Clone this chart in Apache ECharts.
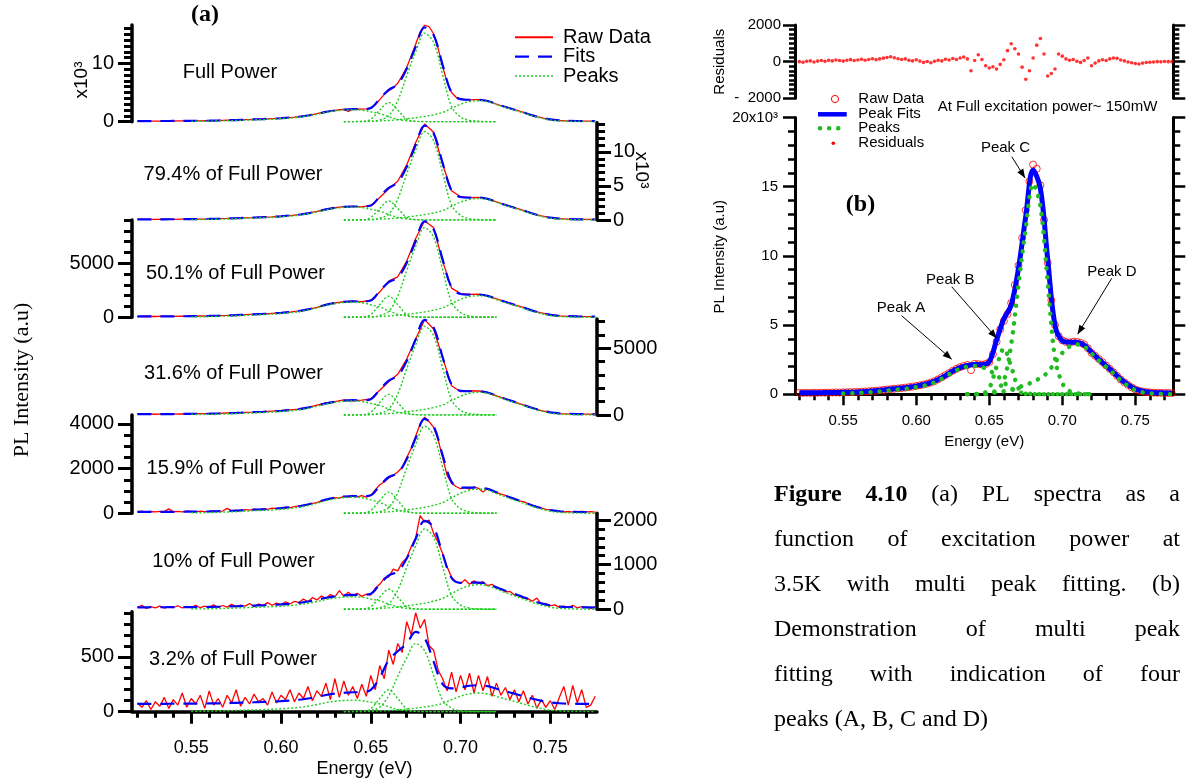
<!DOCTYPE html>
<html>
<head>
<meta charset="utf-8">
<script src="https://cdn.jsdelivr.net/npm/echarts@6/dist/echarts.min.js"></script>
<style>
html, body { margin: 0; padding: 0; background: #fff; }
#chart { width: 1186px; height: 783px; }
</style>
</head>
<body>
<div id="chart"></div>
<script>
// ---------- sampling grids (photon energy, eV) ----------
function seq(start, step, n) { const a = []; for (let i = 0; i < n; i++) a.push(+(start + step * i).toFixed(4)); return a; }
const fitEnergy = seq(0.520, 0.005, 52);     // fits: 0.520 .. 0.775
const rawEnergy = seq(0.520, 0.0025, 103);   // dense spectra: 0.520 .. 0.775
const peakAEnergy = seq(0.550, 0.005, 35);   // peak A: 0.550 .. 0.720
const peakBCEnergy = seq(0.635, 0.005, 18);  // peaks B, C: 0.635 .. 0.720
const peakDEnergy = seq(0.635, 0.005, 29);   // peak D: 0.635 .. 0.775

// ---------- measured PL spectra (counts) ----------
const rawFull = [
  105,100,110,104,112,108,120,115,122,130,
  135,128,145,150,158,165,175,190,205,222,
  245,262,288,318,350,372,405,425,455,485,
  520,555,600,650,705,770,850,950,1080,1230,
  1380,1540,1700,1840,1960,2050,2120,1750,2200,2180,
  2150,2190,2320,2900,3800,4700,5300,5800,6600,7900,
  9300,11300,13300,15400,16600,16300,15100,12600,9500,6800,
  5000,4200,3900,3780,3750,3800,3800,3720,3600,3330,
  3000,2780,2550,2320,2080,1840,1600,1330,1070,860,
  680,500,360,260,200,160,140,120,110,105,
  100,98,90];
const raw79 = [90,100,96,110,104,125, 122,140,150,190,225,262,325,360,420,470, 550,645,780,995,1270,1570,1800,
  1960,2010,1940,2150,3300,4600,5700,8100,11400,14100, 12900,8200,4300,3420,3300,3330,3150,2680,
  2230,1820,1400,940,600,330,190,130,100,85,75];
const raw50 = [70,95,75,100,80,110, 95,120,115,150,170,210,240,290,300,360, 420,470,590,740,920,1180,1330,
  1440,1500,1440,1580,2350,3350,3750,5200,7300,8950, 8300,5200,2700,2200,2120,2150,1990,1700,
  1450,1150,920,610,410,220,130,90,80,70,65];
const raw32 = [60,75,55,80,65,90, 75,100,105,125,150,150,200,215,250,290, 320,390,430,570,740,900,1000,
  1130,1060,1110,1200,1850,2500,3050,4200,5700,7150, 6450,4300,2200,1750,1820,1800,1700,1430,
  1210,980,760,520,330,190,110,80,70,60,55];
const raw16 = [
  70,95,55,80,60,90,75,200,70,85,
  60,95,80,65,100,75,90,110,85,100,
  220,110,135,120,160,140,185,160,200,180,
  230,210,240,270,250,300,330,360,400,440,
  480,560,600,640,700,680,760,720,800,740,
  790,720,800,1050,1280,1400,1580,1700,1850,2050,
  2500,2900,3450,4000,4300,4100,3850,3300,2500,1700,
  1350,1200,1100,1160,1080,1180,1120,950,1100,1000,
  930,860,800,700,650,560,520,430,360,290,
  240,180,150,110,90,60,80,55,70,90,
  60,75,50];
const raw10 = [
  40,90,20,60,30,70,25,55,35,80,
  30,65,40,90,35,70,45,100,40,85,
  50,110,55,95,70,130,60,120,80,150,
  90,140,100,170,120,180,150,230,170,260,
  210,300,240,330,280,420,290,380,300,360,
  290,340,320,470,560,700,720,900,860,1050,
  1150,1400,1600,2100,1950,2000,1700,1500,1250,950,
  720,620,580,660,560,640,580,620,530,560,
  480,450,390,400,320,300,250,240,180,250,
  120,130,80,100,50,70,40,90,30,60,
  45,20,55];
const raw3 = [
  80,40,100,20,90,50,130,30,110,60,
  170,40,120,70,150,30,190,60,120,40,
  150,80,200,50,130,70,160,90,120,60,
  180,80,150,110,200,90,170,120,230,100,
  190,140,260,110,300,130,280,150,230,120,
  250,140,330,200,420,300,560,430,620,540,
  820,700,900,760,840,600,560,380,300,190,
  360,180,330,200,350,170,330,190,320,140,
  260,150,220,110,200,90,190,70,150,30,
  110,40,100,20,130,230,60,240,80,200,
  40,60,140];

// ---------- multi-peak fits (sum of peaks + background) ----------
const fitFull = [110,112,115,120,125,132, 142,152,172,203,244,285,347,398,449,511, 593,695,839,1064,1351,1679,1925,
  2079,2148,2142,2346,3925,5460,6437,9098,12870,16201, 14872,9766,4983,3874,3764,3756,3551,3032,
  2528,2060,1592,1088,692,386,224,152,116,98,80];
const fit79 = [95,97,100,104,110,118, 127,137,156,184,222,260,317,365,412,469, 545,640,773,982,1248,1552,1780,
  1923,1986,1977,2127,3448,4715,5530,7801,11027,13877, 12745,8385,4309,3374,3289,3285,3107,2653,
  2212,1803,1393,952,606,338,196,133,102,86,70];
const fit50 = [80,82,84,87,90,96, 102,109,123,144,172,200,242,277,312,354, 410,480,578,732,928,1152,1320,
  1425,1470,1459,1550,2442,3266,3681,5031,7060,8874, 8149,5364,2759,2160,2105,2102,1988,1700,
  1420,1160,900,620,400,230,140,100,80,70,60];
const fit32 = [65,66,68,70,73,77, 82,87,97,113,134,155,187,213,239,271, 313,365,439,554,701,869,995,
  1074,1109,1103,1185,1906,2582,2939,4039,5676,7136, 6563,4342,2275,1813,1782,1783,1689,1444,
  1206,985,764,526,339,195,118,84,67,59,50];
const fit16 = [65,65,66,67,68,70, 72,75,82,93,108,122,144,162,180,201, 230,266,316,396,496,612,698,
  752,775,770,810,1238,1624,1798,2415,3368,4227, 3897,2604,1408,1153,1146,1150,1091,936,
  784,644,504,352,234,142,93,72,61,55,50];
const fit10 = [45,45,46,46,47,47, 48,50,53,57,62,68,76,83,90,99, 110,124,144,174,214,258,292,
  313,323,323,349,561,760,848,1136,1580,1981, 1833,1241,700,592,595,599,570,491,
  414,343,271,194,134,87,62,51,46,43,40];
const fit3 = [72,72,72,72,73,73, 73,74,75,76,78,81,84,86,89,92, 96,102,109,120,135,152,165,
  172,177,177,199,310,471,550,619,727,669, 456,251,212,220,236,241,233,209,
  186,164,141,118,99,84,77,73,72,71,70];

// ---------- fitted peaks A, B, C, D ----------
const aFull = [62,72,92,123,164,205,267,318,369,431,513,615,759,984,1271,1599,1845,1999,2050,1978,1702,1394,861,410,164,62,21,0,0,0,0,0,0,0,0];
const bFull = [0,0,33,446,2003,3300,2003,446,36,0,0,0,0,0,0,0,0,0];
const cFull = [0,0,15,46,304,1003,3602,7904,12008,15200,13604,8102,2599,806,228,76,15,0];
const dFull = [0,18,36,72,144,216,342,504,684,900,1188,1584,2304,2988,3456,3600,3456,2952,2448,1980,1512,1008,612,306,144,72,36,18,0];

const a79 = [57,67,86,114,152,190,247,295,342,399,475,570,703,912,1178,1482,1710,1853,1900,1834,1577,1292,798,380,152,57,19,0,0,0,0,0,0,0,0];
const b79 = [0,0,28,378,1700,2800,1700,378,31,0,0,0,0,0,0,0,0,0];
const c79 = [0,0,13,39,260,858,3081,6760,10270,13000,11635,6929,2223,689,195,65,13,0];
const d79 = [0,16,32,63,126,189,299,441,599,788,1040,1386,2016,2615,3024,3150,3024,2583,2142,1733,1323,882,536,268,126,63,32,16,0];

const a50 = [42,49,63,84,112,140,182,217,252,294,350,420,518,672,868,1092,1260,1365,1400,1351,1162,952,588,280,112,42,14,0,0,0,0,0,0,0,0];
const b50 = [0,0,20,263,1184,1950,1184,263,21,0,0,0,0,0,0,0,0,0];
const c50 = [0,0,8,25,166,548,1967,4316,6557,8300,7429,4424,1419,440,125,42,8,0];
const d50 = [0,10,20,40,80,120,190,280,380,500,660,880,1280,1660,1920,2000,1920,1640,1360,1100,840,560,340,170,80,40,20,10,0];

const a32 = [32,37,47,63,84,105,137,163,189,221,263,315,389,504,651,819,945,1024,1050,1013,872,714,441,210,84,32,11,0,0,0,0,0,0,0,0];
const b32 = [0,0,16,209,941,1550,941,209,17,0,0,0,0,0,0,0,0,0];
const c32 = [0,0,7,20,133,439,1576,3458,5254,6650,5952,3544,1137,352,100,33,7,0];
const d32 = [0,9,17,34,68,102,162,238,323,425,561,748,1088,1411,1632,1700,1632,1394,1156,935,714,476,289,145,68,34,17,9,0];

const a16 = [22,25,32,43,58,72,94,112,130,151,180,216,266,346,446,562,648,702,720,695,598,490,302,144,58,22,7,0,0,0,0,0,0,0,0];
const b16 = [0,0,10,128,577,950,577,128,10,0,0,0,0,0,0,0,0,0];
const c16 = [0,0,4,12,78,257,924,2028,3081,3900,3491,2079,667,207,59,20,4,0];
const d16 = [0,5,11,22,43,65,103,151,205,270,356,475,691,896,1037,1080,1037,886,734,594,454,302,184,92,43,22,11,5,0];

const a10 = [8,10,13,17,22,28,36,43,50,59,70,84,104,134,174,218,252,273,280,270,232,190,118,56,22,8,3,0,0,0,0,0,0,0,0];
const b10 = [0,0,5,61,273,450,273,61,5,0,0,0,0,0,0,0,0,0];
const c10 = [0,0,2,5,36,119,427,936,1422,1800,1611,959,308,95,27,9,2,0];
const d10 = [0,3,6,11,22,33,52,77,105,138,182,242,352,457,528,550,528,451,374,303,231,154,94,47,22,11,6,3,0];

const a3 = [3,4,5,6,8,11,14,16,19,22,26,32,39,50,65,82,95,102,105,101,87,71,44,21,8,3,1,0,0,0,0,0,0,0,0];
const b3 = [0,0,2,27,121,200,121,27,2,0,0,0,0,0,0,0,0,0];
const c3 = [0,1,2,12,41,147,322,490,620,555,330,106,33,9,3,1,0,0];
const d3 = [0,1,2,3,7,10,16,24,32,43,56,75,109,141,163,170,163,139,116,94,71,48,29,14,7,3,2,1,0];

// ---------- fit residuals at full power (counts) ----------
const residualsFull = [
  0,-30,20,40,-20,30,60,20,70,40,
  90,60,30,80,110,60,90,130,80,120,
  160,110,150,190,230,270,210,160,120,150,
  80,40,100,30,-40,10,-60,20,80,40,
  130,90,170,120,200,250,150,-500,60,380,
  120,-220,-350,-280,-400,-150,100,600,980,700,
  420,-300,-960,-500,200,900,1260,420,-780,-650,
  -400,420,300,150,80,120,20,-40,60,200,
  -220,-80,40,100,60,150,200,180,90,40,
  -20,-60,-100,-130,-80,-50,-30,-20,0,-10,
  10,0,0];

// ---------- panel (a) text and axes ----------
const powerLabels = ['Full Power', '79.4% of Full Power', '50.1% of Full Power', '31.6% of Full Power',
  '15.9% of Full Power', '10% of Full Power', '3.2% of Full Power'];
const yTicksA = [[0, 10000], [0, 5000, 10000], [0, 5000], [0, 5000], [0, 2000, 4000], [0, 1000, 2000], [0, 500]];
const yTickLabelsA = [['0', '10'], ['0', '5', '10'], ['0', '5000'], ['0', '5000'], ['0', '2000', '4000'], ['0', '1000', '2000'], ['0', '500']];
const yMinorStepA = [1000, 1000, 1000, 1000, 500, 200, 100];
const yMaxA = [16600, 14300, 9000, 7200, 4400, 2150, 910];
const energyTicks = [0.55, 0.60, 0.65, 0.70, 0.75];
const energyTickLabels = ['0.55', '0.60', '0.65', '0.70', '0.75'];
const energyMin = 0.517, energyMax = 0.776;

// ---------- panel (b) axes and annotations ----------
const yTicksB = [0, 5000, 10000, 15000, 20000];
const yTickLabelsB = ['0', '5', '10', '15', '20x10³'];
const resTicks = [-2000, 0, 2000];
const resTickLabels = ['-  2000', '0', '2000'];
const peakNames = ['Peak A', 'Peak B', 'Peak C', 'Peak D'];
const peakLabelAt = [[0.5896, 6260], [0.6233, 8260], [0.6611, 17820], [0.7340, 8820]];
const peakArrowFrom = [[0.5900, 5680], [0.6243, 7770], [0.6654, 17170], [0.7338, 8380]];
const peakArrowTo = [[0.6243, 2530], [0.6551, 4050], [0.6745, 15630], [0.7105, 4340]];

// ---------- caption ----------
const captionLines = [
  'Figure 4.10 (a) PL spectra as a',
  'function of excitation power at',
  '3.5K with multi peak fitting. (b)',
  'Demonstration of multi peak',
  'fitting with indication of four',
  'peaks (A, B, C and D)'
];

// ================= layout & style =================
const SANS = '"Liberation Sans", Arial, sans-serif';
const SERIF = '"Liberation Serif", "Times New Roman", serif';
const RED = '#ff0000', BLUE = '#0000ff', GREEN = '#1ecb1e', GREEN_B = '#22bb22';

const A_LEFT = 132, A_WIDTH = 465;
const panelBox = [[25, 121.7, 'left'], [122.7, 220, 'right'], [220.1, 317.3, 'left'], [319, 415, 'right'],
  [415, 513.3, 'left'], [513.3, 609.3, 'right'], [611.7, 711.7, 'left']];
const labelPos = [[230, 72.7], [233, 174.3], [235.5, 273.3], [233.5, 373.3], [236, 468.3], [233.5, 561.7], [233, 659.3]];
const B_LEFT = 795, B_WIDTH = 378.3;
const RES_BOX = [25, 98.3];
const MAIN_B_BOX = [117.5, 394.3];

function stepTicks(min, max, step) {
  const out = [];
  for (let k = Math.ceil(min / step - 1e-9); k * step <= max + 1e-9; k++) out.push(+(k * step).toFixed(6));
  return out;
}
function pairs(xs, ys) { return ys.map((y, i) => [xs[i], y]); }

function axisPair(gridIndex, position, min, max, majors, labels, minorStep, st) {
  const fmt = v => {
    const k = majors.findIndex(m => Math.abs(m - v) < 1e-6 * (Math.abs(m) + 1));
    return k < 0 ? '' : labels[k];
  };
  const major = {
    type: 'value', gridIndex, position, min, max,
    axisLine: { show: true, onZero: false, lineStyle: { color: '#000', width: st.lineW } },
    axisTick: { show: true, inside: false, customValues: majors, length: st.majorLen, lineStyle: { color: '#000', width: st.tickW } },
    axisLabel: labels ? { show: true, customValues: majors, formatter: fmt, margin: st.margin, color: '#000', fontSize: st.fontSize, fontFamily: SANS } : { show: false },
    splitLine: { show: false }
  };
  const minor = {
    type: 'value', gridIndex, position, min, max,
    axisLine: { show: false, onZero: false },
    axisTick: { show: true, inside: false, customValues: stepTicks(min, max, minorStep), length: st.minorLen, lineStyle: { color: '#000', width: st.tickW } },
    axisLabel: { show: false },
    splitLine: { show: false }
  };
  return [major, minor];
}

const styleAL = { lineW: 3.5, tickW: 3, majorLen: 14, minorLen: 8, margin: 18, fontSize: 20 };
const styleAR = { lineW: 3.5, tickW: 3, majorLen: 14, minorLen: 8, margin: 16, fontSize: 20 };
const styleAx = { lineW: 3.5, tickW: 3, majorLen: 12, minorLen: 6, margin: 27, fontSize: 18 };
const styleB = { lineW: 3, tickW: 2.5, majorLen: 12, minorLen: 7, margin: 17, fontSize: 15 };
const styleBx = { lineW: 3, tickW: 2.5, majorLen: 11, minorLen: 6, margin: 19, fontSize: 15 };
const styleRes = { lineW: 3, tickW: 2.5, majorLen: 12, minorLen: 6, margin: 14, fontSize: 15 };

const grids = [], xAxes = [], yAxes = [], series = [];

// ----- panel (a): seven stacked spectra -----
const spectra = [
  { raw: rawFull, rawE: rawEnergy, fit: fitFull, A: aFull, B: bFull, C: cFull, D: dFull },
  { raw: raw79, rawE: fitEnergy, fit: fit79, A: a79, B: b79, C: c79, D: d79 },
  { raw: raw50, rawE: fitEnergy, fit: fit50, A: a50, B: b50, C: c50, D: d50 },
  { raw: raw32, rawE: fitEnergy, fit: fit32, A: a32, B: b32, C: c32, D: d32 },
  { raw: raw16, rawE: rawEnergy, fit: fit16, A: a16, B: b16, C: c16, D: d16 },
  { raw: raw10, rawE: rawEnergy, fit: fit10, A: a10, B: b10, C: c10, D: d10 },
  { raw: raw3, rawE: rawEnergy, fit: fit3, A: a3, B: b3, C: c3, D: d3 }
];

spectra.forEach((sp, i) => {
  const [top, bottom, side] = panelBox[i];
  grids.push({ left: A_LEFT, width: A_WIDTH, top, height: bottom - top, containLabel: false, outerBoundsMode: 'none' });
  const xi = xAxes.length;
  if (i < 6) {
    xAxes.push({ type: 'value', gridIndex: i, min: energyMin, max: energyMax, show: false });
  } else {
    const [mj, mn] = axisPair(i, 'bottom', energyMin, energyMax, energyTicks, energyTickLabels, 0.01, styleAx);
    mj.name = 'Energy (eV)'; mj.nameLocation = 'middle'; mj.nameGap = 48;
    mj.nameTextStyle = { fontSize: 18, color: '#000', fontFamily: SANS };
    xAxes.push(mj, mn);
  }
  const yi = yAxes.length;
  yAxes.push(...axisPair(i, side, 0, yMaxA[i], yTicksA[i], yTickLabelsA[i], yMinorStepA[i], side === 'left' ? styleAL : styleAR));

  const common = { xAxisIndex: xi, yAxisIndex: yi, showSymbol: false, animation: false, silent: true };
  series.push({ ...common, type: 'line', data: pairs(sp.rawE, sp.raw), lineStyle: { color: RED, width: 1.3 } });
  series.push({ ...common, type: 'line', smooth: 0.35, data: pairs(fitEnergy, sp.fit), lineStyle: { color: BLUE, width: 2.2, type: [14, 9] } });
  [[peakAEnergy, sp.A], [peakBCEnergy, sp.B], [peakBCEnergy, sp.C], [peakDEnergy, sp.D]].forEach(([e, v]) => {
    series.push({ ...common, type: 'line', smooth: 0.35, data: pairs(e, v), lineStyle: { color: GREEN, width: 1.4, type: [2, 2] } });
  });
});

// ----- panel (b): residuals -----
grids.push({ left: B_LEFT, width: B_WIDTH, top: RES_BOX[0], height: RES_BOX[1] - RES_BOX[0], containLabel: false, outerBoundsMode: 'none' });
const xRes = xAxes.length;
xAxes.push({ type: 'value', gridIndex: 7, min: energyMin, max: energyMax, show: false });
const yRes = yAxes.length;
yAxes.push(...axisPair(7, 'left', -2000, 2000, resTicks, resTickLabels, 250, styleRes));
yAxes.push(...axisPair(7, 'right', -2000, 2000, resTicks, null, 250, styleRes));
series.push({ type: 'scatter', xAxisIndex: xRes, yAxisIndex: yRes, symbol: 'circle', symbolSize: 3.6,
  itemStyle: { color: RED }, data: pairs(rawEnergy, residualsFull), animation: false, silent: true });

// ----- panel (b): full-power spectrum with peaks -----
grids.push({ left: B_LEFT, width: B_WIDTH, top: MAIN_B_BOX[0], height: MAIN_B_BOX[1] - MAIN_B_BOX[0], containLabel: false, outerBoundsMode: 'none' });
const xB = xAxes.length;
{
  const [mj, mn] = axisPair(8, 'bottom', energyMin, energyMax, energyTicks, energyTickLabels, 0.01, styleBx);
  mj.name = 'Energy (eV)'; mj.nameLocation = 'middle'; mj.nameGap = 40;
  mj.nameTextStyle = { fontSize: 15, color: '#000', fontFamily: SANS };
  xAxes.push(mj, mn);
}
const yB = yAxes.length;
yAxes.push(...axisPair(8, 'left', 0, 20000, yTicksB, yTickLabelsB, 1000, styleB));
yAxes.push(...axisPair(8, 'right', 0, 20000, yTicksB, null, 1000, styleB));
const commonB = { xAxisIndex: xB, yAxisIndex: yB, animation: false, silent: true };
series.push({ ...commonB, type: 'scatter', symbol: 'circle', symbolSize: 7,
  itemStyle: { color: 'rgba(0,0,0,0)', borderColor: RED, borderWidth: 1 }, data: pairs(rawEnergy, rawFull) });
series.push({ ...commonB, type: 'line', smooth: 0.35, showSymbol: false, data: pairs(fitEnergy, fitFull),
  lineStyle: { color: BLUE, width: 5 } });
[[peakAEnergy, aFull], [peakBCEnergy, bFull], [peakBCEnergy, cFull], [peakDEnergy, dFull]].forEach(([e, v]) => {
  series.push({ ...commonB, type: 'line', smooth: 0.35, showSymbol: false, data: pairs(e, v),
    lineStyle: { color: GREEN_B, width: 4.5, type: [0.1, 9], cap: 'round' } });
});

const chart = echarts.init(document.getElementById('chart'), null, { renderer: 'canvas' });
chart.setOption({
  backgroundColor: '#fff',
  animation: false,
  textStyle: { fontFamily: SANS },
  grid: grids, xAxis: xAxes, yAxis: yAxes, series
});

// ================= text, legends and annotations =================
function text(x, y, str, font, opt) {
  opt = opt || {};
  return { type: 'text', x, y, rotation: opt.rotation || 0, silent: true, z: 10,
    style: { text: str, font, fill: '#000', align: opt.align || 'center', verticalAlign: 'middle',
      textAlign: opt.align || 'center', textVerticalAlign: 'middle' } };
}
function line(x1, y1, x2, y2, stroke, width, dash, cap) {
  return { type: 'line', silent: true, z: 10, shape: { x1, y1, x2, y2 },
    style: { stroke, lineWidth: width, lineDash: dash || null, lineCap: cap || 'butt' } };
}
const g = [];
const fA = '20px ' + SANS, fB = '15px ' + SANS;

// panel (a)
g.push(text(205, 15, '(a)', 'bold 24px ' + SERIF));
powerLabels.forEach((s, i) => g.push(text(labelPos[i][0], labelPos[i][1], s, '20px ' + SANS)));
g.push(text(82, 80, 'x10³', '19px ' + SANS, { rotation: Math.PI / 2 }));
g.push(text(641, 170, 'x10³', '19px ' + SANS, { rotation: -Math.PI / 2 }));
g.push(text(22, 380, 'PL Intensity (a.u)', '22px ' + SERIF, { rotation: Math.PI / 2 }));
g.push(line(515, 37.3, 553, 37.3, RED, 2));
g.push(line(515, 56.7, 553, 56.7, BLUE, 2.2, [14, 9]));
g.push(line(515, 76, 553, 76, GREEN, 1.5, [2, 2]));
g.push(text(563, 37.3, 'Raw Data', fA, { align: 'left' }));
g.push(text(563, 56.7, 'Fits', fA, { align: 'left' }));
g.push(text(563, 76, 'Peaks', fA, { align: 'left' }));

// panel (b)
g.push(text(719.5, 61.7, 'Residuals', fB, { rotation: Math.PI / 2 }));
g.push(text(720, 256.7, 'PL Intensity (a.u)', fB, { rotation: Math.PI / 2 }));
g.push(text(860.5, 205, '(b)', 'bold 24px ' + SERIF));
g.push(text(1047.5, 106.7, 'At Full excitation power~ 150mW', fB));
g.push({ type: 'circle', silent: true, z: 10, shape: { cx: 835, cy: 99, r: 3.6 }, style: { fill: 'none', stroke: RED, lineWidth: 1 } });
g.push(line(818, 114.3, 846.7, 114.3, BLUE, 4.5));
g.push(line(820, 128.3, 842, 128.3, GREEN_B, 4.5, [0.1, 9], 'round'));
g.push({ type: 'circle', silent: true, z: 10, shape: { cx: 833.3, cy: 143.3, r: 1.8 }, style: { fill: RED } });
[['Raw Data', 99], ['Peak Fits', 114.3], ['Peaks', 128.3], ['Residuals', 143.3]].forEach(([s, y]) =>
  g.push(text(858.3, y, s, fB, { align: 'left' })));

// arrows pointing at the four peaks
const toPx = p => chart.convertToPixel({ xAxisIndex: xB, yAxisIndex: yB }, p);
peakNames.forEach((name, i) => {
  const t = toPx(peakLabelAt[i]), a = toPx(peakArrowFrom[i]), b = toPx(peakArrowTo[i]);
  g.push(text(t[0], t[1], name, fB));
  g.push(line(a[0], a[1], b[0], b[1], '#000', 1));
  const ang = Math.atan2(b[1] - a[1], b[0] - a[0]), L = 9, W = 3.5;
  const bx = b[0] - L * Math.cos(ang), by = b[1] - L * Math.sin(ang);
  g.push({ type: 'polygon', silent: true, z: 10, shape: { points: [
    [b[0], b[1]], [bx + W * Math.sin(ang), by - W * Math.cos(ang)], [bx - W * Math.sin(ang), by + W * Math.cos(ang)]] },
    style: { fill: '#000' } });
});

// justified caption
const CAP_LEFT = 774, CAP_RIGHT = 1180, CAP_TOP = 495, CAP_STEP = 45, CAP_SIZE = 24;
const ctx = document.createElement('canvas').getContext('2d');
const capFont = bold => (bold ? 'bold ' : '') + CAP_SIZE + 'px ' + SERIF;
captionLines.forEach((ln, li) => {
  const words = ln.split(' ').map((w, wi) => ({ w, bold: li === 0 && wi < 2 }));
  words.forEach(o => { ctx.font = capFont(o.bold); o.width = ctx.measureText(o.w).width; });
  ctx.font = capFont(false);
  const space = ctx.measureText(' ').width;
  const total = words.reduce((s, o) => s + o.width, 0);
  const last = li === captionLines.length - 1;
  const gap = last ? space : (CAP_RIGHT - CAP_LEFT - total) / (words.length - 1);
  let x = CAP_LEFT;
  const y = CAP_TOP + li * CAP_STEP;
  words.forEach(o => {
    g.push(text(x, y, o.w, capFont(o.bold), { align: 'left' }));
    x += o.width + gap;
  });
});

chart.setOption({ graphic: { elements: g } });
</script>
</body>
</html>
